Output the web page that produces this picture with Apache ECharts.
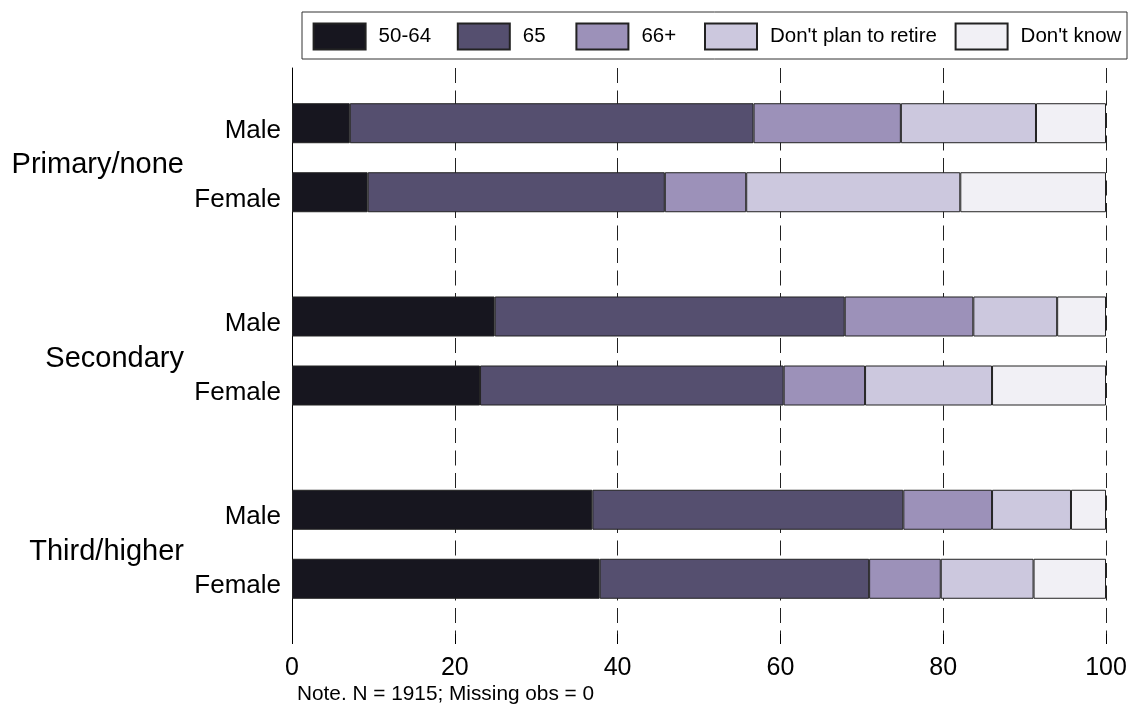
<!DOCTYPE html>
<html>
<head>
<meta charset="utf-8">
<script src="https://cdn.jsdelivr.net/npm/echarts@6/dist/echarts.min.js"></script>
<style>
  html, body { margin: 0; padding: 0; background: #fff; }
  #chart { width: 1131px; height: 708px; }
</style>
</head>
<body>
<div id="chart"></div>
<script>
// ---- data ----
const groups = ['Primary/none', 'Secondary', 'Third/higher'];
const sexes = ['Male', 'Female'];
const seriesNames = ['50-64', '65', '66+', "Don't plan to retire", "Don't know"];
// rows in order: Primary Male, Primary Female, Secondary Male, Secondary Female, Third Male, Third Female
const age5064 = [7.1, 9.3, 24.9, 23.1, 36.9, 37.8];
const age65 = [49.6, 36.5, 43.0, 37.3, 38.2, 33.1];
const age66plus = [18.1, 10.0, 15.8, 10.0, 10.9, 8.8];
const dontPlan = [16.6, 26.3, 10.3, 15.6, 9.7, 11.4];
const dontKnow = [8.6, 17.9, 6.0, 14.0, 4.3, 8.9];
const xTickLabels = [0, 20, 40, 60, 80, 100];
const noteText = 'Note. N = 1915; Missing obs = 0';

// ---- layout / style ----
const colors = ['#17161f', '#554f6f', '#9c91b9', '#ccc8de', '#f1f0f5'];
const FONT = "'Liberation Sans', Arial, sans-serif";
const seriesValues = [age5064, age65, age66plus, dontPlan, dontKnow];

// category slots: each row uses a slot index on a fine-grained category axis
const SLOT_FIRST = 8, SLOT_GROUP = 28, SLOT_SEX = 10, SLOT_COUNT = 83;
const rowSlots = [];
const yCats = new Array(SLOT_COUNT).fill('');
const sexCats = new Array(SLOT_COUNT).fill('');
const groupCats = new Array(SLOT_COUNT).fill('');
groups.forEach((g, gi) => {
  sexes.forEach((s, si) => {
    const slot = SLOT_FIRST + gi * SLOT_GROUP + si * SLOT_SEX;
    rowSlots.push(slot);
    sexCats[slot] = s;
  });
  groupCats[SLOT_FIRST + gi * SLOT_GROUP + SLOT_SEX / 2] = g;
});

const legendLefts = [312.6, 456.8, 575.4, 704, 954.6];

const G_TOP = 68, G_BOTTOM = 74, G_LEFT = 292, G_RIGHT = 25;
const SEX_DY = 7.5, GROUP_DY = 7.5;

const chart = echarts.init(document.getElementById('chart'), null, { renderer: 'canvas' });

const hiddenX = (gi) => ({
  type: 'value', gridIndex: gi, min: 0, max: 100, show: false,
  axisLine: { show: false }, axisTick: { show: false }, axisLabel: { show: false }, splitLine: { show: false }
});
const labelY = (gi, data, size, margin, offset) => ({
  type: 'category', gridIndex: gi, data: data, inverse: true, boundaryGap: false,
  position: 'left', offset: offset,
  axisLine: { show: false }, axisTick: { show: false }, splitLine: { show: false },
  axisLabel: { interval: 0, fontFamily: FONT, fontSize: size, color: '#000', margin: margin }
});

const option = {
  animation: false,
  backgroundColor: '#fff',
  textStyle: { fontFamily: FONT },
  title: {
    text: noteText,
    left: 297,
    top: 684,
    padding: 0,
    textStyle: { fontFamily: FONT, fontSize: 20.8, fontWeight: 'normal', color: '#000' }
  },
  legend: seriesNames.map((n, i) => ({
    data: [n],
    left: legendLefts[i],
    top: 22.5,
    padding: 0,
    itemWidth: 52,
    itemHeight: 26,
    icon: 'rect',
    selectedMode: false,
    textStyle: { fontFamily: FONT, fontSize: 20.5, color: '#000', padding: [0, 0, 0, 8] }
  })),
  graphic: [{
    type: 'rect',
    shape: { x: 302, y: 12, width: 825, height: 47 },
    style: { fill: 'none', stroke: '#333', lineWidth: 1 },
    z: -1
  }],
  grid: [
    { left: G_LEFT, right: G_RIGHT, top: G_TOP, bottom: G_BOTTOM, containLabel: false },
    { left: G_LEFT, right: G_RIGHT, top: G_TOP + SEX_DY, bottom: G_BOTTOM - SEX_DY, containLabel: false },
    { left: G_LEFT, right: G_RIGHT, top: G_TOP + GROUP_DY, bottom: G_BOTTOM - GROUP_DY, containLabel: false }
  ],
  xAxis: [{
    type: 'value',
    gridIndex: 0,
    min: xTickLabels[0],
    max: xTickLabels[xTickLabels.length - 1],
    interval: xTickLabels[1] - xTickLabels[0],
    axisLine: { show: false },
    axisTick: { show: true, length: 10, lineStyle: { color: '#000', width: 1 } },
    axisLabel: { fontFamily: FONT, fontSize: 25, color: '#000', margin: 22 },
    splitLine: { show: true, lineStyle: { color: '#222', width: 1, type: [15, 7.5] } }
  }, hiddenX(1), hiddenX(2)],
  yAxis: [{
    type: 'category',
    gridIndex: 0,
    data: yCats,
    inverse: true,
    boundaryGap: false,
    axisLine: { show: true, lineStyle: { color: '#000', width: 1 } },
    axisTick: { show: false },
    axisLabel: { show: false },
    splitLine: { show: false }
  },
  labelY(1, sexCats, 26, 11, 0),
  labelY(2, groupCats, 29, 8, 100)],
  series: seriesNames.map((n, k) => ({
    name: n,
    type: 'bar',
    stack: 'total',
    xAxisIndex: 0,
    yAxisIndex: 0,
    barWidth: 40,
    itemStyle: { color: colors[k], borderColor: '#222', borderWidth: 1 },
    data: seriesValues[k].map((v, i) => [v, rowSlots[i]])
  }))
};

chart.setOption(option);
</script>
</body>
</html>
